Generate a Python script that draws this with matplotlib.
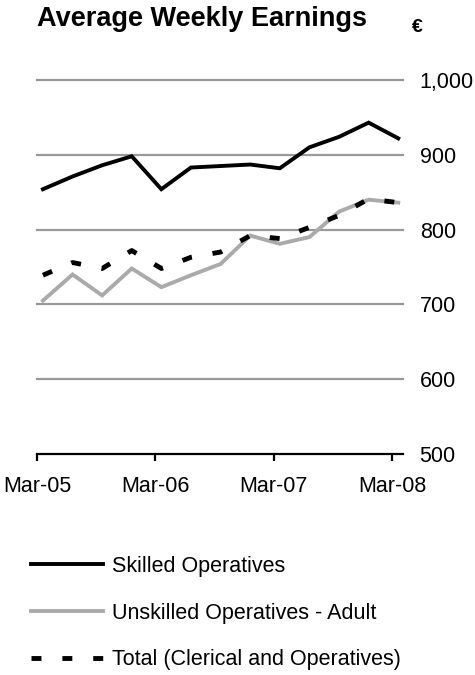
import matplotlib
matplotlib.use("Agg")
import matplotlib.pyplot as plt
from matplotlib.lines import Line2D

plt.rcParams['font.family'] = ['Liberation Sans', 'DejaVu Sans']

quarters = ["Mar-05", "Jun-05", "Sep-05", "Dec-05", "Mar-06", "Jun-06", "Sep-06",
            "Dec-06", "Mar-07", "Jun-07", "Sep-07", "Dec-07", "Mar-08"]
skilled = [854, 871, 886, 898, 854, 883, 885, 887, 882, 910, 924, 943, 922]
unskilled = [705, 740, 712, 748, 723, 739, 754, 792, 781, 790, 824, 840, 836]
total = [739, 756, 748, 772, 748, 763, 770, 792, 788, 803, 819, 841, 836]
tick_labels = ["Mar-05", "Mar-06", "Mar-07", "Mar-08"]
y_ticks = [500, 600, 700, 800, 900, 1000]
series_labels = ["Skilled Operatives", "Unskilled Operatives - Adult",
                 "Total (Clerical and Operatives)"]

FS = 15.5
fig = plt.figure(figsize=(4.75, 6.75), dpi=100)
ax = fig.add_axes([37/475, 1-454/675, (403-37)/475, (454-80)/675])

x = list(range(len(quarters)))
ax.set_xlim(-0.2, 12.16)
ax.set_ylim(500, 1000)

for v in y_ticks[1:]:
    ax.axhline(v, color='#999999', lw=1.6, zorder=1, clip_on=False)

dash = (0, (2.05, 4.3))
ax.plot(x, skilled, color='black', lw=2.8, zorder=3, clip_on=False,
        solid_joinstyle='miter')
ax.plot(x, unskilled, color='#aaaaaa', lw=2.8, zorder=3, clip_on=False,
        solid_joinstyle='miter')
ax.plot(x, total, color='black', lw=3.5, zorder=4, clip_on=False,
        linestyle=dash)

for s in ['top', 'left', 'right']:
    ax.spines[s].set_visible(False)
ax.spines['bottom'].set_linewidth(1.6)

tick_pos = [x[0] - 0.2 + 4*i for i in range(len(tick_labels))]
ax.set_xticks(tick_pos)
ax.set_xticklabels(tick_labels, fontsize=FS)
ax.tick_params(axis='x', direction='out', length=5, width=1.6, pad=11)

ax.yaxis.tick_right()
ax.set_yticks(y_ticks)
ax.set_yticklabels([f"{v:,}" for v in y_ticks], fontsize=FS)
ax.tick_params(axis='y', length=0, pad=12)

fig.text(37/475, 1-19/675, "Average Weekly Earnings", fontsize=19.5,
         fontweight='bold', va='center', ha='left')
fig.text(417/475, 1-28/675, "€", fontsize=14, fontweight='bold',
         va='center', ha='center')

handles = [Line2D([], [], color='black', lw=2.8),
           Line2D([], [], color='#aaaaaa', lw=2.8),
           Line2D([], [], color='black', lw=3.5, linestyle=dash)]
fig.legend(handles, series_labels, loc='upper left',
           bbox_to_anchor=(31/475, 1-556/675), frameon=False, fontsize=FS,
           handlelength=3.35, handletextpad=0.42, labelspacing=1.19,
           borderpad=0, borderaxespad=0)

fig.savefig("out.png", dpi=100)
